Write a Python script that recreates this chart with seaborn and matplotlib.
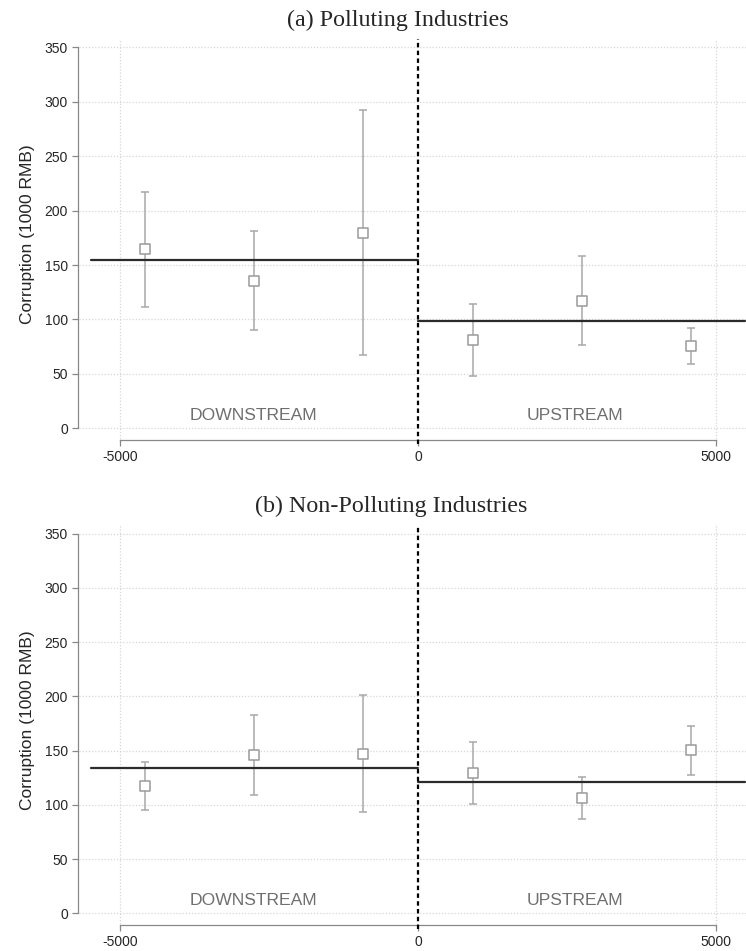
import numpy as np
import pandas as pd
import matplotlib
matplotlib.use("Agg")
import matplotlib.pyplot as plt
import seaborn as sns

# bin midpoints (distance to border, meters)
bin_x = [-4575, -2745, -915, 915, 2745, 4575]
range_lo = [-5490, 0]
range_hi = [0, 5490]

# (a) polluting industries
poll_mean = [164.5, 135.5, 179.5, 81.0, 117.0, 75.5]
poll_lo = [111.5, 90.0, 67.0, 48.0, 77.0, 59.0]
poll_hi = [217.5, 181.0, 292.5, 114.0, 158.0, 92.0]
poll_fit = [155.0, 98.5]

# (b) non-polluting industries
nonp_mean = [117.0, 145.5, 147.0, 129.0, 106.5, 150.5]
nonp_lo = [95.0, 109.0, 93.0, 100.5, 87.0, 127.5]
nonp_hi = [139.5, 182.5, 201.0, 157.5, 126.0, 173.0]
nonp_fit = [133.5, 121.5]

titles = ["(a) Polluting Industries", "(b) Non-Polluting Industries"]
ylabel = "Corruption (1000 RMB)"
yticks = [0, 50, 100, 150, 200, 250, 300, 350]
xticks = [-5000, 0, 5000]

sns.set_style("white")
plt.rcParams['font.family'] = ['Liberation Sans', 'DejaVu Sans']

fig = plt.figure(figsize=(7.46, 9.51), dpi=100)
ax_top = fig.add_axes([0.1059, 0.5473, 0.894, 0.4121])
ax_bot = fig.add_axes([0.1059, 0.0373, 0.894, 0.4108])

panels = [
    (ax_top, poll_mean, poll_lo, poll_hi, poll_fit),
    (ax_bot, nonp_mean, nonp_lo, nonp_hi, nonp_fit),
]

marker_col = "#9a9a9a"
for ax, mean, lo, hi, fit in panels:
    df = pd.DataFrame({"x": bin_x, "y": mean, "lo": lo, "hi": hi})

    # grid (Stata-like dotted)
    for yt in yticks:
        ax.axhline(yt, color="#d6d6d6", lw=0.9, ls=(0, (1, 1.5)), zorder=0)
    for xt in [-5000, 5000]:
        ax.axvline(xt, ymin=-0.03, color="#d6d6d6", lw=0.9, ls=(0, (1, 1.5)),
                   clip_on=False, zorder=0)

    # fitted means on each side
    for i in range(2):
        seg = pd.DataFrame({"x": [range_lo[i], range_hi[i]], "y": [fit[i], fit[i]]})
        sns.lineplot(data=seg, x="x", y="y", ax=ax, color="#2b2b2b", lw=1.6, zorder=3)

    # confidence intervals
    ax.errorbar(df["x"], df["y"], yerr=[df["y"] - df["lo"], df["hi"] - df["y"]],
                fmt="none", ecolor="#a8a8a8", elinewidth=1.1, capsize=3,
                capthick=1.1, zorder=2)
    sns.scatterplot(data=df, x="x", y="y", ax=ax, marker="s", s=45,
                    facecolor="white", edgecolor=marker_col, linewidth=1.1, zorder=4)

    # border line
    ax.axvline(0, ymin=-0.035, ymax=1, color="black", lw=1.6,
               ls=(0, (2, 1.5)), clip_on=False, zorder=5)

    ax.text(-2760, 12, "DOWNSTREAM", ha="center", va="center", fontsize=12.6, color="#6f6f6f")
    ax.text(2640, 12, "UPSTREAM", ha="center", va="center", fontsize=12.6, color="#6f6f6f")

    ax.set_xlim(-5688, 5503)
    ax.set_ylim(-2, 358)
    ax.set_yticks(yticks)
    ax.set_xticks(xticks)
    ax.set_yticklabels([str(t) for t in yticks], fontsize=9.3)
    ax.set_xticklabels([str(t) for t in xticks], fontsize=9)
    ax.set_xlabel("")
    ax.set_ylabel(ylabel, fontsize=12.5, labelpad=7)

    for side in ["top", "right"]:
        ax.spines[side].set_visible(False)
    ax.spines["left"].set_bounds(0, 350)
    ax.spines["bottom"].set_bounds(-5000, 5000)
    ax.spines["bottom"].set_position(("outward", 7))
    ax.spines["left"].set_position(("outward", 1))
    for side in ["left", "bottom"]:
        ax.spines[side].set_color("#888888")
        ax.spines[side].set_linewidth(0.9)
    ax.tick_params(axis="both", direction="out", length=4, width=0.9,
                   color="#888888", left=True, bottom=True, pad=3)

# panel titles
fig.text(0.533, 0.979, titles[0], ha="center", va="center",
         family="Liberation Serif", fontsize=17.3)
fig.text(0.525, 0.468, titles[1], ha="center", va="center",
         family="Liberation Serif", fontsize=17.3)

fig.savefig("out.png", dpi=100)
